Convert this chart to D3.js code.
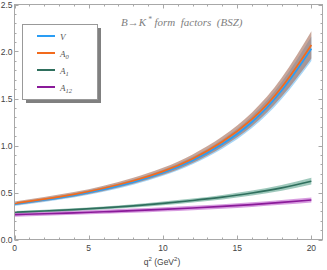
<!DOCTYPE html>
<html><head><meta charset="utf-8">
<script src="https://cdn.jsdelivr.net/npm/d3@7"></script>
<style>body{margin:0;background:#fff}svg{display:block}</style>
</head><body><svg id="c" width="327" height="270"></svg>
<script>
const q2 = [0,2,4,6,8,10,12,14,16,18,20];
const V    = [0.375,0.42,0.47,0.533,0.61,0.71,0.84,1.015,1.25,1.585,2.03];
const Verr = [0.018,0.02,0.022,0.025,0.028,0.033,0.04,0.05,0.065,0.09,0.13];
const A0   = [0.385,0.43,0.48,0.545,0.625,0.725,0.86,1.04,1.28,1.62,2.07];
const A0err= [0.02,0.022,0.025,0.028,0.032,0.037,0.045,0.055,0.072,0.1,0.145];
const A1   = [0.29,0.303,0.318,0.336,0.358,0.384,0.415,0.45,0.495,0.55,0.62];
const A1err= [0.013,0.014,0.015,0.016,0.017,0.019,0.021,0.024,0.027,0.031,0.036];
const A12  = [0.265,0.274,0.284,0.295,0.307,0.32,0.335,0.352,0.372,0.395,0.42];
const A12err=[0.022,0.022,0.022,0.022,0.023,0.023,0.024,0.024,0.025,0.026,0.027];
const xTicks = [0,5,10,15,20];
const yTicks = [0,0.5,1.0,1.5,2.0,2.5];
const series = [
  {name:"V", sub:"", vals:V, err:Verr, color:"#2a9df4", band:"#5fb4f0", op:0.55},
  {name:"A", sub:"0", vals:A0, err:A0err, color:"#f26b1d", band:"#a8705a", op:0.62},
  {name:"A", sub:"1", vals:A1, err:A1err, color:"#2f6f5d", band:"#3f9479", op:0.5},
  {name:"A", sub:"12", vals:A12, err:A12err, color:"#8a1a99", band:"#b84cc6", op:0.55}
];
const svg = d3.select("#c");
const L=14.5, R=322.5, T=4.5, B=239.5;
const x = d3.scaleLinear().domain([0,20.75]).range([L,R]);
const y = d3.scaleLinear().domain([0,2.5]).range([B,T]);
svg.append("clipPath").attr("id","clip").append("rect").attr("x",L).attr("y",T).attr("width",R-L).attr("height",B-T);
const g = svg.append("g").attr("clip-path","url(#clip)");
const curve = d3.curveNatural;
series.forEach((s,i)=>{
  const pts = q2.map((q,j)=>({q, v:s.vals[j], e:s.err[j]}));
  g.append("path").datum(pts)
    .attr("d", d3.area().curve(curve).x(d=>x(d.q)).y0(d=>y(d.v-d.e)).y1(d=>y(d.v+d.e)))
    .attr("fill", s.band).attr("fill-opacity", s.op);
});
series.forEach((s,i)=>{
  const pts = q2.map((q,j)=>({q, v:s.vals[j]}));
  g.append("path").datum(pts)
    .attr("d", d3.line().curve(curve).x(d=>x(d.q)).y(d=>y(d.v)))
    .attr("fill","none").attr("stroke", s.color).attr("stroke-width",1.7);
});
// frame
svg.append("rect").attr("x",L).attr("y",T).attr("width",R-L).attr("height",B-T)
  .attr("fill","none").attr("stroke","#a8a8a8").attr("stroke-width",1);
const tk = svg.append("g").attr("stroke","#a8a8a8").attr("stroke-width",1);
d3.range(0,21,1).forEach(v=>{
  const major = v%5===0, len = major?4:2, px = Math.round(x(v))+0.5;
  tk.append("line").attr("x1",px).attr("x2",px).attr("y1",B).attr("y2",B-len);
  tk.append("line").attr("x1",px).attr("x2",px).attr("y1",T).attr("y2",T+len);
});
d3.range(0,26,1).forEach(k=>{
  const v=k/10, major = k%5===0, len = major?4:2, py = Math.round(y(v))+0.5;
  tk.append("line").attr("x1",L).attr("x2",L+len).attr("y1",py).attr("y2",py);
  tk.append("line").attr("x1",R).attr("x2",R-len).attr("y1",py).attr("y2",py);
});
const lab = svg.append("g").attr("font-family","Liberation Sans, Arial, sans-serif").attr("font-size",8.5).attr("fill","#444");
xTicks.forEach(v=>lab.append("text").attr("x",x(v)).attr("y",B+11).attr("text-anchor","middle").text(v));
yTicks.forEach(v=>lab.append("text").attr("x",L-2).attr("y",y(v)+3).attr("text-anchor","end").text(v.toFixed(1)));
const xl = lab.append("text").attr("x",162).attr("y",265).attr("text-anchor","middle");
xl.append("tspan").text("q");
xl.append("tspan").attr("dy",-4).attr("font-size",6).text("2");
xl.append("tspan").attr("dy",4).text(" (GeV");
xl.append("tspan").attr("dy",-4).attr("font-size",6).text("2");
xl.append("tspan").attr("dy",4).text(")");
// title
const t = svg.append("text").attr("x",121).attr("y",26).attr("font-family","Liberation Serif, serif")
  .attr("font-style","italic").attr("font-size",11).attr("fill","#808080");
t.append("tspan").text("B\u2192K");
t.append("tspan").attr("dy",-4).attr("font-size",7.5).text(" *");
t.append("tspan").attr("dy",4).attr("xml:space","preserve").text(" form  factors  (BSZ)");
// legend
const lg = svg.append("g");
lg.append("rect").attr("x",26).attr("y",28).attr("width",75).attr("height",75).attr("fill","#808080");
lg.append("rect").attr("x",22.5).attr("y",24.5).attr("width",75).attr("height",75).attr("fill","#fff").attr("stroke","#999");
series.forEach((s,i)=>{
  const yy = 36 + i*17;
  lg.append("line").attr("x1",37).attr("x2",55).attr("y1",yy).attr("y2",yy).attr("stroke",s.color).attr("stroke-width",2);
  const tx = lg.append("text").attr("x",60).attr("y",yy+3.5).attr("font-family","Liberation Serif, serif")
    .attr("font-style","italic").attr("font-size",9).attr("fill","#555");
  tx.append("tspan").text(s.name);
  if(s.sub) tx.append("tspan").attr("dy",2).attr("font-size",6.5).text(s.sub);
});
</script></body></html>
